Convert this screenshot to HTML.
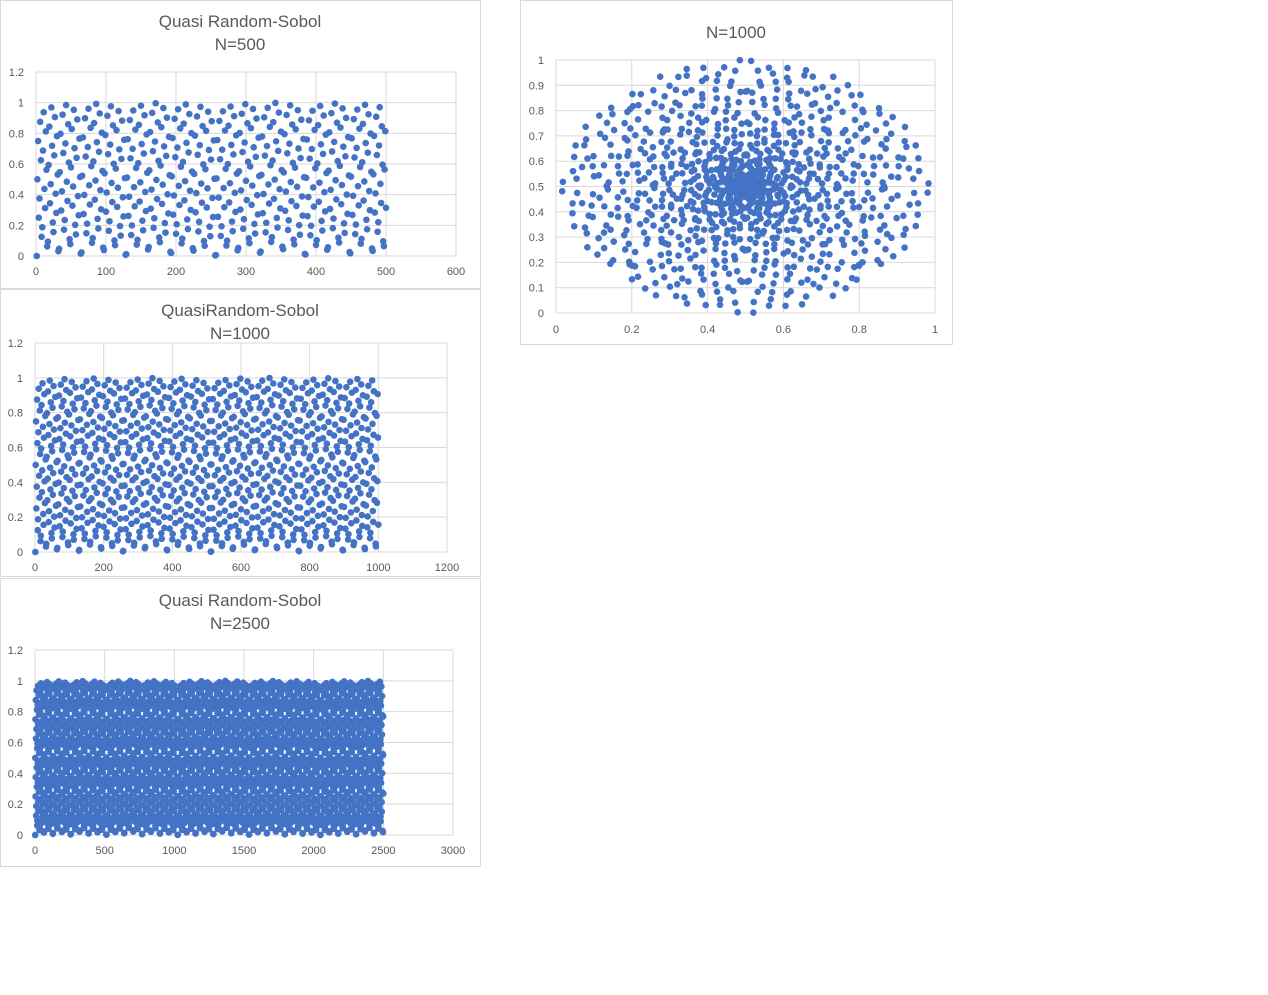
<!DOCTYPE html>
<html><head><meta charset="utf-8">
<style>
body{margin:0;background:#fff;font-family:"Liberation Sans",sans-serif;}
svg{position:absolute;left:0;top:0}
</style></head>
<body>
<svg id="s" width="1268" height="995"></svg>
<script>
// Chart data
const counts1 = [500, 1000, 2500];
const titles1 = [["Quasi Random-Sobol","N=500"],["QuasiRandom-Sobol","N=1000"],["Quasi Random-Sobol","N=2500"]];
const xTicks1 = [[0,100,200,300,400,500,600],[0,200,400,600,800,1000,1200],[0,500,1000,1500,2000,2500,3000]];
const yTicks1 = [0,0.2,0.4,0.6,0.8,1,1.2];
const countDisk = 1000;
const xTicksDisk = [0,0.2,0.4,0.6,0.8,1];
const yTicksDisk = [0,0.1,0.2,0.3,0.4,0.5,0.6,0.7,0.8,0.9,1];

// Sobol sequence (dims 1 and 2), gray-code construction
function sobol(n){
  const V1=[],V2=[];
  for(let i=0;i<32;i++){V1[i]=(1<<(31-i))>>>0;}
  V2[0]=(1<<31)>>>0;
  for(let i=1;i<32;i++){V2[i]=(V2[i-1]^(V2[i-1]>>>1))>>>0;}
  let a=0,b=0;const out=[[0,0]];
  for(let k=1;k<n;k++){
    let c=0,x=k-1;while(x&1){x>>=1;c++;}
    a=(a^V1[c])>>>0;b=(b^V2[c])>>>0;
    out.push([a/4294967296,b/4294967296]);
  }
  return out;
}
const svg=document.getElementById('s');
const NS='http://www.w3.org/2000/svg';
function el(tag,attrs,parent){const e=document.createElementNS(NS,tag);for(const k in attrs)e.setAttribute(k,attrs[k]);(parent||svg).appendChild(e);return e;}
function txt(x,y,s,size,anchor,color,parent){const t=el('text',{x:x,y:y,'font-size':size,'text-anchor':anchor,fill:color,'font-family':'Liberation Sans, sans-serif'},parent);t.textContent=s;return t;}

const boxes=[
 {bx:0,by:0,bw:480,bh:288,px0:36,px1:456,py0:256,py1:72,t:[22,45]},
 {bx:0,by:289,bw:480,bh:287,px0:35,px1:447,py0:552,py1:343,t:[311,334]},
 {bx:0,by:578,bw:480,bh:288,px0:35,px1:453,py0:835,py1:650,t:[601,624]}
];
boxes.forEach((B,ci)=>{
  const g=el('g',{});
  
  
  el('rect',{x:B.bx+0.5,y:B.by+0.5,width:B.bw,height:B.bh,fill:'#fff',stroke:'#d9d9d9'},g);
  titles1[ci].forEach((s,i)=>{const t=txt(240,B.t[i]+5,s,17,'middle','#595959',g);});
  const xt=xTicks1[ci],xmax=xt[xt.length-1];
  const sx=v=>B.px0+(B.px1-B.px0)*v/xmax, sy=v=>B.py0+(B.py1-B.py0)*v/1.2;
  yTicks1.forEach(v=>{el('line',{x1:B.px0,x2:B.px1,y1:sy(v),y2:sy(v),stroke:'#d9d9d9'},g);txt(B.px0-12,sy(v)+4,String(v),11,'end','#595959',g);});
  xt.forEach(v=>{el('line',{x1:sx(v),x2:sx(v),y1:B.py0,y2:B.py1,stroke:'#d9d9d9'},g);txt(sx(v),B.py0+19,String(v),11,'middle','#595959',g);});
  const pts=sobol(counts1[ci]);
  pts.forEach((p,i)=>{const c=el('circle',{cx:sx(i+1),cy:sy(p[0]),r:3.3,fill:'#4472c4'},g);
    
    });
});

// Disk chart
{
  const g=el('g',{});
  
  
  el('rect',{x:520.5,y:0.5,width:432,height:344,fill:'#fff',stroke:'#d9d9d9'},g);
  const t=txt(736,38,'N=1000',17,'middle','#595959',g);
  
  const px0=556,px1=935,py0=313,py1=60;
  const sx=v=>px0+(px1-px0)*v, sy=v=>py0+(py1-py0)*v;
  yTicksDisk.forEach(v=>{el('line',{x1:px0,x2:px1,y1:sy(v),y2:sy(v),stroke:'#d9d9d9'},g);txt(px0-12,sy(v)+4,String(v),11,'end','#595959',g);});
  xTicksDisk.forEach(v=>{el('line',{x1:sx(v),x2:sx(v),y1:py0,y2:py1,stroke:'#d9d9d9'},g);txt(sx(v),py0+20,String(v),11,'middle','#595959',g);});
  sobol(countDisk).forEach(p=>{
    const r=0.5*p[0],a=2*Math.PI*p[1];
    const c=el('circle',{cx:sx(0.5+r*Math.cos(a)*0.97),cy:sy(0.5+r*Math.sin(a)),r:3.3,fill:'#4472c4'},g);
    
    
  });
}
</script>
</body></html>
